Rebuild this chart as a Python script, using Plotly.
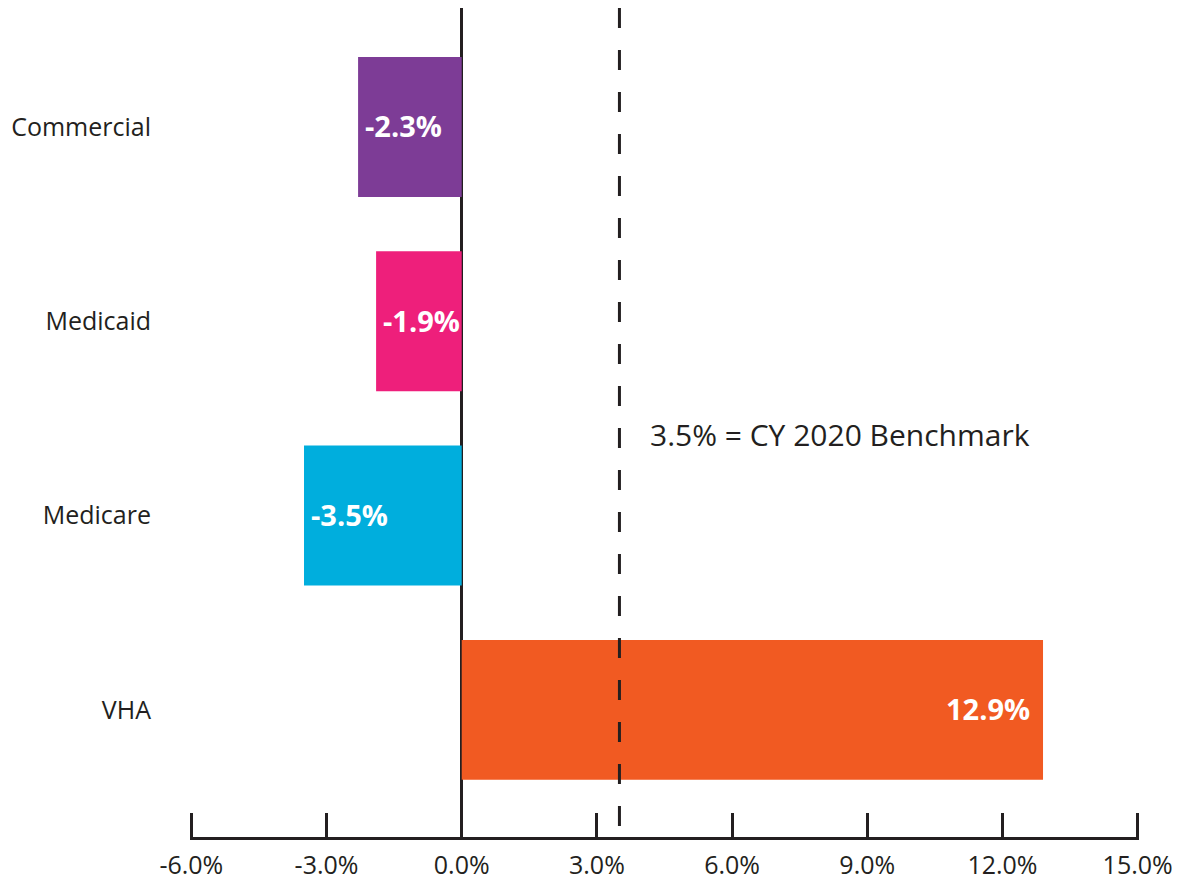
import plotly.graph_objects as go

# data
payers = ["Commercial", "Medicaid", "Medicare", "VHA"]
growth_pct = [-2.3, -1.9, -3.5, 12.9]
bar_colors = ["#7D3C96", "#EE1F7B", "#00AEDD", "#F15A22"]
benchmark_pct = 3.5
benchmark_label = "3.5% = CY 2020 Benchmark"
x_ticks = [-6, -3, 0, 3, 6, 9, 12, 15]

INK = "#231F20"
FONT = "Open Sans"

fig = go.Figure()
fig.add_trace(
    go.Bar(
        x=growth_pct,
        y=payers,
        orientation="h",
        marker=dict(color=bar_colors, line=dict(width=0)),
        width=0.72,
        hoverinfo="skip",
    )
)

# value labels inside the bar ends
for name, v in zip(payers, growth_pct):
    fig.add_annotation(
        x=v, y=name, xref="x", yref="y",
        text=f"{v:.1f}%",
        showarrow=False,
        xanchor="left" if v < 0 else "right",
        xshift=5 if v < 0 else -11,
        yshift=1,
        font=dict(family=FONT, size=29, color="white", weight="bold"),
    )

# benchmark line
fig.add_shape(
    type="line",
    xref="x", yref="paper",
    x0=benchmark_pct, x1=benchmark_pct, y0=1, y1=0,
    line=dict(color=INK, width=3, dash="20px,22px"),
)
fig.add_annotation(
    x=benchmark_pct, xref="x", xshift=29,
    y=0.485, yref="paper",
    text=benchmark_label,
    showarrow=False,
    xanchor="left", yanchor="middle",
    font=dict(family=FONT, size=30, color=INK),
)

fig.update_layout(
    width=1180,
    height=884,
    margin=dict(l=182, r=49, t=0, b=55),
    plot_bgcolor="white",
    paper_bgcolor="white",
    showlegend=False,
    font=dict(family=FONT, color=INK),
    xaxis=dict(
        range=[-6.03, 15.03],
        tickvals=x_ticks,
        ticktext=[f"{v:.1f}%" for v in x_ticks],
        automargin=False,
        showgrid=False,
        zeroline=True,
        zerolinecolor=INK,
        zerolinewidth=3,
        showline=True,
        linecolor=INK,
        linewidth=3,
        ticks="inside",
        ticklen=24,
        tickwidth=3,
        tickcolor=INK,
        ticklabelstandoff=4,
        tickfont=dict(family=FONT, size=25, color=INK),
    ),
    yaxis=dict(
        type="category",
        categoryorder="array",
        categoryarray=payers,
        range=[3.654, -0.612],
        automargin=False,
        showgrid=False,
        zeroline=False,
        showline=False,
        ticks="",
        ticklabelstandoff=38,
        tickfont=dict(family=FONT, size=25, color=INK),
    ),
)

fig.write_html("out.html")
